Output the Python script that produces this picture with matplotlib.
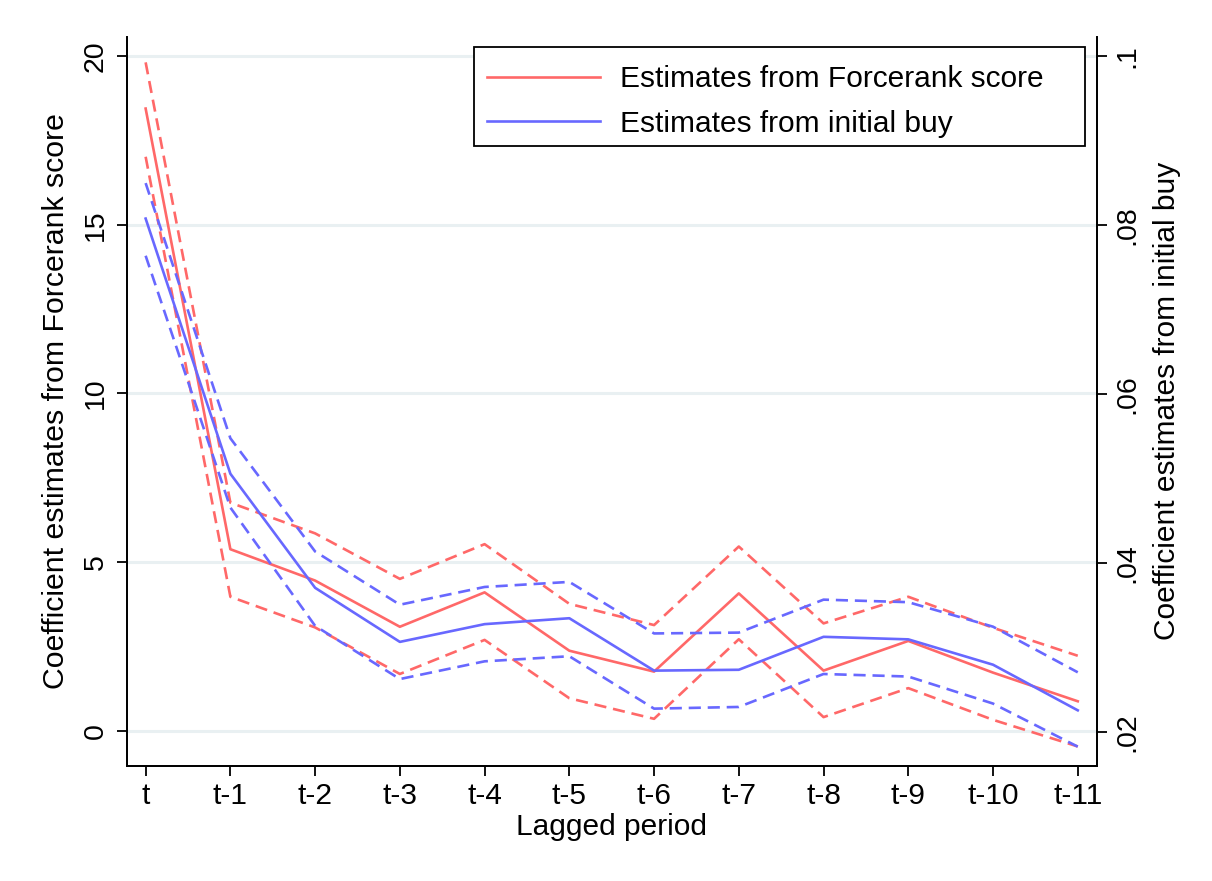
import matplotlib
matplotlib.use("Agg")
import matplotlib.pyplot as plt
from matplotlib.patches import Rectangle

plt.rcParams["font.family"] = ["Liberation Sans", "DejaVu Sans"]

LAGS = ["t", "t-1", "t-2", "t-3", "t-4", "t-5", "t-6", "t-7", "t-8", "t-9", "t-10", "t-11"]

# Forcerank score coefficients (left axis)
force_est = [18.45, 5.38, 4.45, 3.08, 4.10, 2.37, 1.75, 4.07, 1.78, 2.66, 1.72, 0.87]
force_hi = [19.82, 6.76, 5.85, 4.50, 5.53, 3.76, 3.13, 5.46, 3.18, 3.97, 3.05, 2.22]
force_lo = [17.02, 3.97, 3.06, 1.68, 2.69, 0.96, 0.35, 2.71, 0.40, 1.26, 0.32, -0.47]

# initial buy coefficients (right axis)
buy_est = [0.0808, 0.0506, 0.0371, 0.0307, 0.0328, 0.0335, 0.0273, 0.0274, 0.0313, 0.0310, 0.0280, 0.0226]
buy_hi = [0.0850, 0.0548, 0.0414, 0.0351, 0.0372, 0.0378, 0.0317, 0.0318, 0.0357, 0.0354, 0.0325, 0.0271]
buy_lo = [0.0764, 0.0466, 0.0326, 0.0263, 0.0284, 0.0290, 0.0228, 0.0230, 0.0269, 0.0266, 0.0234, 0.0183]

LEFT_TICKS = [0, 5, 10, 15, 20]
RIGHT_TICKS = [0.02, 0.04, 0.06, 0.08, 0.10]
RIGHT_LABELS = [".02", ".04", ".06", ".08", ".1"]

RED = "#ff6868"
BLUE = "#6868ff"
GRID = "#e9f0f2"
FS = 21.5
YTICK_FS = 20.5
LW = 1.9
DASH = (4.6, 2.6)


def style_spines(ax):
    ax.spines["top"].set_visible(False)
    for side in ["left", "bottom", "right"]:
        ax.spines[side].set_linewidth(1.3)


def rotate_labels(labels):
    for lab in labels:
        lab.set_rotation(90)
        lab.set_va("center")


def plot_results(output_path):
    fig = plt.figure(figsize=(12.12, 8.81), dpi=100)
    ax1 = fig.add_axes([0.1045, 0.1309, 0.8004, 0.8274])
    x = range(len(LAGS))

    # --- left axis: Forcerank score ---
    ax1.plot(x, force_est, color=RED, linewidth=LW, label="Estimates from Forcerank score", zorder=3)
    ax1.plot(x, force_hi, color=RED, linewidth=LW, dashes=DASH, zorder=3)
    ax1.plot(x, force_lo, color=RED, linewidth=LW, dashes=DASH, zorder=3)

    ax1.set_xlim(-0.224, 11.224)
    ax1.set_ylim(-1.04, 20.58)
    ax1.set_xticks(list(x))
    ax1.set_xticklabels(LAGS)
    ax1.set_yticks(LEFT_TICKS)
    ax1.set_yticklabels([str(v) for v in LEFT_TICKS])
    rotate_labels(ax1.get_yticklabels())
    ax1.yaxis.grid(True, color=GRID, linewidth=2.2)
    ax1.set_axisbelow(True)
    ax1.tick_params(axis="both", direction="out", length=7, width=1.3, labelsize=FS, pad=5)
    ax1.tick_params(axis="y", labelsize=YTICK_FS, pad=6)
    ax1.set_xlabel("Lagged period", fontsize=FS, labelpad=2)
    ax1.set_ylabel("Coefficient estimates from Forcerank score", fontsize=21.8, labelpad=9)
    style_spines(ax1)

    # --- right axis: initial buy ---
    ax2 = ax1.twinx()
    ax2.plot(x, buy_est, color=BLUE, linewidth=LW, label="Estimates from initial buy", zorder=3)
    ax2.plot(x, buy_hi, color=BLUE, linewidth=LW, dashes=DASH, zorder=3)
    ax2.plot(x, buy_lo, color=BLUE, linewidth=LW, dashes=DASH, zorder=3)
    ax2.set_ylim(0.01605, 0.10232)
    ax2.set_yticks(RIGHT_TICKS)
    ax2.set_yticklabels(RIGHT_LABELS)
    rotate_labels(ax2.get_yticklabels())
    ax2.tick_params(axis="y", direction="out", length=7, width=1.3, labelsize=YTICK_FS, pad=6)
    ax2.set_ylabel("Coefficient estimates from initial buy", fontsize=FS, labelpad=9)
    style_spines(ax2)

    # legend box drawn by hand so the right padding matches
    box = Rectangle((0.358, 0.850), 0.630, 0.1358, transform=ax2.transAxes, facecolor="white",
                    edgecolor="black", linewidth=1.3, zorder=4, clip_on=False)
    ax2.add_patch(box)

    h1, l1 = ax1.get_legend_handles_labels()
    h2, l2 = ax2.get_legend_handles_labels()
    leg = ax2.legend(h1 + h2, l1 + l2, loc="upper left", bbox_to_anchor=(0.3714, 0.961),
                     fontsize=FS, frameon=False, handlelength=3.78, handletextpad=0.67,
                     borderpad=0, labelspacing=0.55, borderaxespad=0)
    leg.set_zorder(5)

    plt.savefig(output_path, dpi=100)
    plt.close()


if __name__ == "__main__":
    plot_results("out.png")
